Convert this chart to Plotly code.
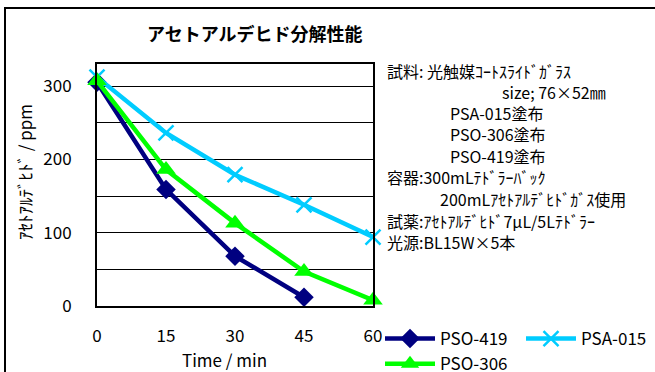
import plotly.graph_objects as go

time_min = [0, 15, 30, 45, 60]
pso419 = [305, 159, 68, 12]
psa015 = [312, 236, 179, 138, 94]
pso306 = [307, 186, 113, 47, 8]

series_names = ["PSO-419", "PSA-015", "PSO-306"]
y_ticks = [0, 50, 100, 150, 200, 250, 300]
y_ticklabels = ["0", "", "100", "", "200", "", "300"]

title_text = "アセトアルデヒド分解性能"
y_title = "ｱｾﾄｱﾙﾃﾞﾋﾄﾞ / ppm"
x_title = "Time / min"
notes = [
    ("試料: 光触媒ｺｰﾄｽﾗｲﾄﾞｶﾞﾗｽ", 385, 71),
    ("size; 76×52㎜", 500, 92),
    ("PSA-015塗布", 448, 113),
    ("PSO-306塗布", 448, 134),
    ("PSO-419塗布", 448, 156),
    ("容器:300mLﾃﾄﾞﾗｰﾊﾞｯｸ", 385, 177),
    ("200mLｱｾﾄｱﾙﾃﾞﾋﾄﾞｶﾞｽ使用", 438, 199),
    ("試薬:ｱｾﾄｱﾙﾃﾞﾋﾄﾞ7μL/5Lﾃﾄﾞﾗｰ", 385, 221),
    ("光源:BL15W×5本", 385, 242),
]

FONT = "Noto Sans CJK JP"
W, H = 655, 372
L, R, T, B = 97, 373, 64, 306

def px(x):
    return (x - L) / (R - L)

def py(y):
    return (B - y) / (B - T)

fig = go.Figure()
fig.add_trace(go.Scatter(x=time_min[:len(pso419)], y=pso419, name=series_names[0],
                         mode="lines+markers", line=dict(color="#000080", width=4.5),
                         marker=dict(symbol="diamond", size=15, color="#000080")))
fig.add_trace(go.Scatter(x=time_min, y=psa015, name=series_names[1],
                         mode="lines+markers", line=dict(color="#00CCFF", width=4.5),
                         marker=dict(symbol="x-thin", size=15, color="#00CCFF",
                                     line=dict(color="#00CCFF", width=2.5))))
fig.add_trace(go.Scatter(x=time_min, y=pso306, name=series_names[2],
                         mode="lines+markers", line=dict(color="#00FF00", width=4.5),
                         marker=dict(symbol="triangle-up", size=17, color="#00FF00")))

annotations = [
    dict(text="<b>" + title_text + "</b>", x=px(254), y=py(33), xref="paper", yref="paper",
         xanchor="center", yanchor="middle",
         showarrow=False, font=dict(size=18, color="black", family=FONT)),
    dict(text=y_title, x=px(24), y=py(172), xref="paper", yref="paper", textangle=-90,
         xanchor="center", yanchor="middle",
         showarrow=False, font=dict(size=17, color="black", family=FONT)),
    dict(text=x_title, x=px(224), y=py(359), xref="paper", yref="paper",
         xanchor="center", yanchor="middle",
         showarrow=False, font=dict(size=17, color="black", family=FONT)),
]
for txt, x, y in notes:
    annotations.append(dict(text=txt, x=px(x), y=py(y), xref="paper", yref="paper",
                            xanchor="left", yanchor="middle", showarrow=False,
                            font=dict(size=16, color="black", family=FONT)))

fig.update_layout(
    width=W, height=H,
    margin=dict(l=L, r=W - R, t=T, b=H - B, pad=0, autoexpand=False),
    paper_bgcolor="white", plot_bgcolor="white",
    font=dict(family=FONT, color="black", size=16),
    showlegend=True,
    legend=dict(orientation="h", x=px(380), y=py(321), xanchor="left", yanchor="top",
                font=dict(size=17, family=FONT), entrywidth=76, bgcolor="rgba(0,0,0,0)",
                tracegroupgap=0, itemwidth=50),
    annotations=annotations,
    shapes=[dict(type="rect", xref="paper", yref="paper", x0=px(5), y0=py(420), x1=px(720), y1=py(8),
                 line=dict(color="black", width=2), layer="below")],
)
fig.update_xaxes(range=[0, 60], tickvals=time_min, showgrid=False, zeroline=False,
                 showline=True, linecolor="black", linewidth=2, mirror=True,
                 ticks="", ticklabelstandoff=14, tickfont=dict(size=17, family=FONT))
fig.update_yaxes(range=[0, 330], tickvals=y_ticks, ticktext=y_ticklabels, showgrid=True,
                 gridcolor="black", gridwidth=1, zeroline=False,
                 showline=True, linecolor="black", linewidth=2, mirror=True,
                 ticks="", ticklabelstandoff=20, tickfont=dict(size=17, family=FONT))
fig.update_traces(cliponaxis=False)

fig.write_html("out.html", config={"displayModeBar": False},
               post_script="document.body.style.margin='0';document.body.style.overflow='hidden';")
